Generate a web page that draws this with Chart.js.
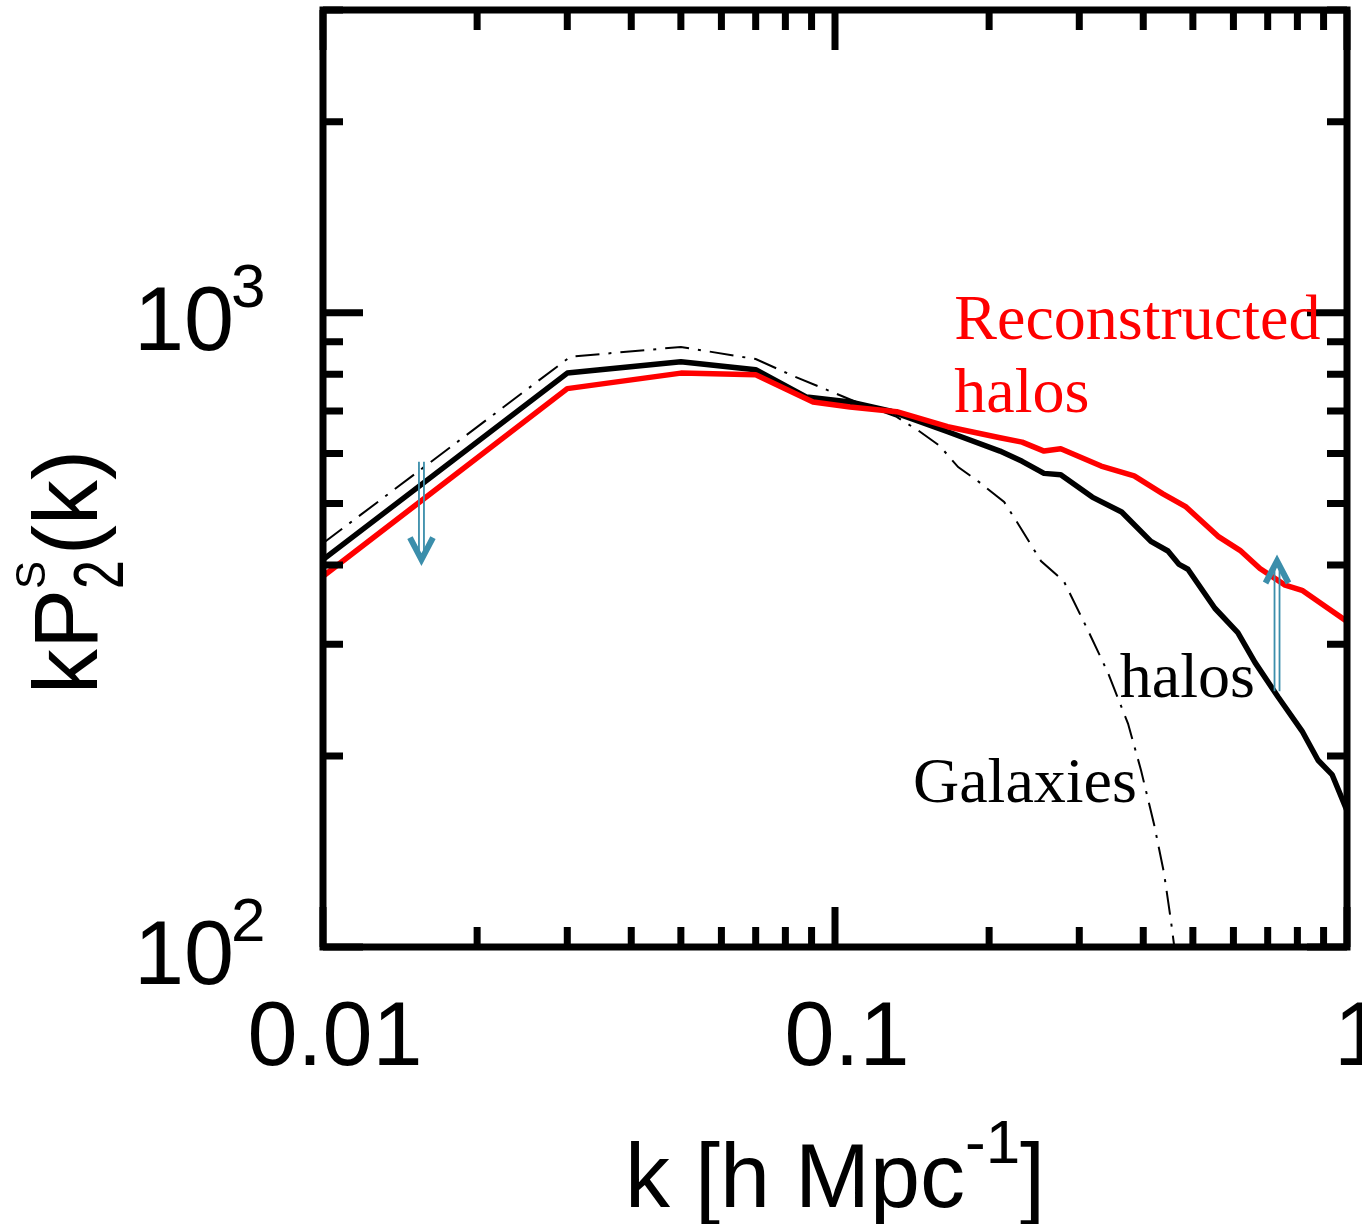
<!DOCTYPE html>
<html>
<head>
<meta charset="utf-8">
<title>kP2(k) halos / galaxies</title>
<script src="https://cdn.jsdelivr.net/npm/chart.js@4.4.0/dist/chart.umd.min.js"></script>
<style>
  html, body { margin: 0; padding: 0; background: #fff; }
  canvas { display: block; }
</style>
</head>
<body>
<canvas id="myChart" width="1362" height="1224"></canvas>
<script>
// values (k in h/Mpc, kP2 on log axis)
const kRecon = [0.01, 0.03, 0.05, 0.07, 0.0906, 0.107, 0.132, 0.166, 0.21, 0.232, 0.256, 0.276, 0.331, 0.384, 0.437, 0.485, 0.56, 0.618, 0.676, 0.757, 0.817, 0.918, 1.0];
const pRecon = [384, 759, 803, 798, 723, 710, 698, 661, 635, 625, 605, 610, 573, 553, 518, 494, 444, 422, 395, 372, 365, 342, 326];

const kHalos = [0.01, 0.03, 0.05, 0.07, 0.088, 0.107, 0.128, 0.166, 0.21, 0.232, 0.256, 0.276, 0.318, 0.363, 0.414, 0.447, 0.47, 0.489, 0.552, 0.612, 0.661, 0.733, 0.817, 0.878, 0.935, 1.0];
const pHalos = [408, 803, 837, 813, 736, 723, 700, 649, 605, 583, 558, 555, 512, 485, 436, 421, 401, 394, 342, 313, 281, 248, 219, 197, 187, 164];

const kGalaxies = [0.01, 0.0304, 0.05, 0.07, 0.0828, 0.0922, 0.11, 0.132, 0.1466, 0.16, 0.174, 0.191, 0.214, 0.23, 0.2525, 0.28, 0.3106, 0.341, 0.3735, 0.396, 0.42, 0.439, 0.453, 0.4615];
const pGalaxies = [433, 852, 883, 845, 795, 767, 723, 685, 649, 617, 571, 541, 503, 459, 406, 377, 318, 271, 225, 190, 156, 131, 110, 98];

// ticks
const xTicks = [0.01, 0.02, 0.03, 0.04, 0.05, 0.06, 0.07, 0.08, 0.09, 0.1, 0.2, 0.3, 0.4, 0.5, 0.6, 0.7, 0.8, 0.9, 1];
const xMajor = [0.01, 0.1, 1];
const xTickLabels = ['0.01', '0.1', '1'];
const yTicks = [100, 200, 300, 400, 500, 600, 700, 800, 900, 1000, 2000, 3000];
const yMajor = [100, 1000];
const yTickLabels = [['10', '2'], ['10', '3']];

// text and arrows placed in data space
const notes = [
  { text: 'Reconstructed', k: 0.171, p: 910, color: '#ff0000' },
  { text: 'halos', k: 0.171, p: 698, color: '#ff0000' },
  { text: 'halos', k: 0.360, p: 248, color: '#000000' },
  { text: 'Galaxies', k: 0.142, p: 169, color: '#000000' }
];
const arrows = [
  { k: 0.01557, from: 582, to: 408 },
  { k: 0.730, from: 253, to: 406 }
];

function toPoints(ks, ps) {
  return ks.map((k, i) => ({ x: k, y: ps[i] }));
}

const SANS = '"Liberation Sans", Arial, sans-serif';
const SERIF = '"Liberation Serif", "Times New Roman", serif';

const framePlugin = {
  id: 'framePlugin',
  beforeDraw(chart) {
    const c = chart.ctx;
    c.save();
    c.fillStyle = '#fff';
    c.fillRect(0, 0, chart.width, chart.height);
    c.restore();
  },
  afterDatasetsDraw(chart) {
    const ctx = chart.ctx;
    const area = chart.chartArea;
    const xs = chart.scales.x, ys = chart.scales.y;
    ctx.save();

    // box
    ctx.strokeStyle = '#000';
    ctx.lineWidth = 7;
    ctx.strokeRect(area.left, area.top, area.right - area.left, area.bottom - area.top);

    // inward ticks on all four sides
    ctx.beginPath();
    xTicks.forEach(v => {
      const px = xs.getPixelForValue(v);
      const len = xMajor.includes(v) ? 40 : 20;
      ctx.moveTo(px, area.bottom); ctx.lineTo(px, area.bottom - len);
      ctx.moveTo(px, area.top); ctx.lineTo(px, area.top + len);
    });
    yTicks.forEach(v => {
      const py = ys.getPixelForValue(v);
      const len = yMajor.includes(v) ? 40 : 20;
      ctx.moveTo(area.left, py); ctx.lineTo(area.left + len, py);
      ctx.moveTo(area.right, py); ctx.lineTo(area.right - len, py);
    });
    ctx.stroke();

    // x tick labels
    ctx.fillStyle = '#000';
    ctx.textBaseline = 'alphabetic';
    ctx.textAlign = 'center';
    ctx.font = '90px ' + SANS;
    xMajor.forEach((v, i) => {
      ctx.fillText(xTickLabels[i], xs.getPixelForValue(v) + 12, area.bottom + 118);
    });

    // y tick labels 10^n
    ctx.textAlign = 'left';
    yMajor.forEach((v, i) => {
      const py = ys.getPixelForValue(v);
      ctx.font = '90px ' + SANS;
      ctx.fillText(yTickLabels[i][0], area.left - 189, py + 37);
      ctx.font = '62px ' + SANS;
      ctx.fillText(yTickLabels[i][1], area.left - 92, py - 6);
    });

    // x title: k [h Mpc^-1]
    ctx.font = '90px ' + SANS;
    const w1 = ctx.measureText('k [h Mpc').width;
    const w3 = ctx.measureText(']').width;
    ctx.font = '62px ' + SANS;
    const w2 = ctx.measureText('-1').width;
    let tx = (area.left + area.right) / 2 - (w1 + w2 + w3) / 2;
    ctx.font = '90px ' + SANS;
    ctx.fillText('k [h Mpc', tx, area.bottom + 260);
    ctx.font = '62px ' + SANS;
    ctx.fillText('-1', tx + w1, area.bottom + 216);
    ctx.font = '90px ' + SANS;
    ctx.fillText(']', tx + w1 + w2, area.bottom + 260);

    // y title: kP^S_2(k), rotated
    ctx.save();
    ctx.translate(97, 694);
    ctx.rotate(-Math.PI / 2);
    ctx.font = '90px ' + SANS;
    ctx.fillText('kP', 0, 0);
    let ox = ctx.measureText('kP').width;
    ctx.font = '42px ' + SANS;
    ctx.fillText('S', ox, -52);
    ctx.save();
    ctx.translate(ox, 26);
    ctx.scale(1, 1.35);
    ctx.font = '52px ' + SANS;
    ctx.fillText('2', 0, 0);
    ctx.restore();
    ox += 34;
    ctx.font = '90px ' + SANS;
    ctx.fillText('(k)', ox, 0);
    ctx.restore();

    // curve labels
    ctx.font = '64px ' + SERIF;
    notes.forEach(n => {
      ctx.fillStyle = n.color;
      ctx.fillText(n.text, xs.getPixelForValue(n.k), ys.getPixelForValue(n.p));
    });

    // double-line arrows
    const teal = '#3b8eab';
    arrows.forEach(a => {
      const px = xs.getPixelForValue(a.k);
      const y0 = ys.getPixelForValue(a.from);
      const y1 = ys.getPixelForValue(a.to);
      const dir = y1 > y0 ? 1 : -1;
      ctx.strokeStyle = teal;
      ctx.lineWidth = 1.8;
      ctx.beginPath();
      ctx.moveTo(px - 2.5, y0); ctx.lineTo(px - 2.5, y1 - dir * 6);
      ctx.moveTo(px + 2.5, y0); ctx.lineTo(px + 2.5, y1 - dir * 6);
      ctx.stroke();
      ctx.lineWidth = 6;
      ctx.lineJoin = 'miter';
      ctx.beginPath();
      ctx.moveTo(px - 11.5, y1 - dir * 22);
      ctx.lineTo(px, y1);
      ctx.lineTo(px + 11.5, y1 - dir * 22);
      ctx.stroke();
    });

    ctx.restore();
  }
};

const myChart = new Chart(document.getElementById('myChart'), {
  type: 'line',
  data: {
    datasets: [
      {
        label: 'Reconstructed halos',
        data: toPoints(kRecon, pRecon),
        borderColor: '#ff0000',
        borderWidth: 5.5,
        pointRadius: 0,
        tension: 0,
        borderJoinStyle: 'round'
      },
      {
        label: 'halos',
        data: toPoints(kHalos, pHalos),
        borderColor: '#000000',
        borderWidth: 5.5,
        pointRadius: 0,
        tension: 0,
        borderJoinStyle: 'round'
      },
      {
        label: 'Galaxies',
        data: toPoints(kGalaxies, pGalaxies),
        borderColor: '#000000',
        borderWidth: 2,
        borderDash: [24, 9, 3, 9],
        pointRadius: 0,
        tension: 0
      }
    ]
  },
  options: {
    responsive: false,
    devicePixelRatio: 1,
    animation: false,
    layout: { padding: { top: 10, right: 15, left: 0, bottom: 0 } },
    plugins: {
      legend: { display: false },
      tooltip: { enabled: false }
    },
    scales: {
      x: {
        type: 'logarithmic',
        min: 0.01,
        max: 1,
        ticks: { display: false },
        grid: { display: false },
        border: { display: false },
        afterFit: s => { s.height = 277; }
      },
      y: {
        type: 'logarithmic',
        min: 100,
        max: 3000,
        ticks: { display: false },
        grid: { display: false },
        border: { display: false },
        afterFit: s => { s.width = 323; }
      }
    }
  },
  plugins: [framePlugin]
});
</script>
</body>
</html>
